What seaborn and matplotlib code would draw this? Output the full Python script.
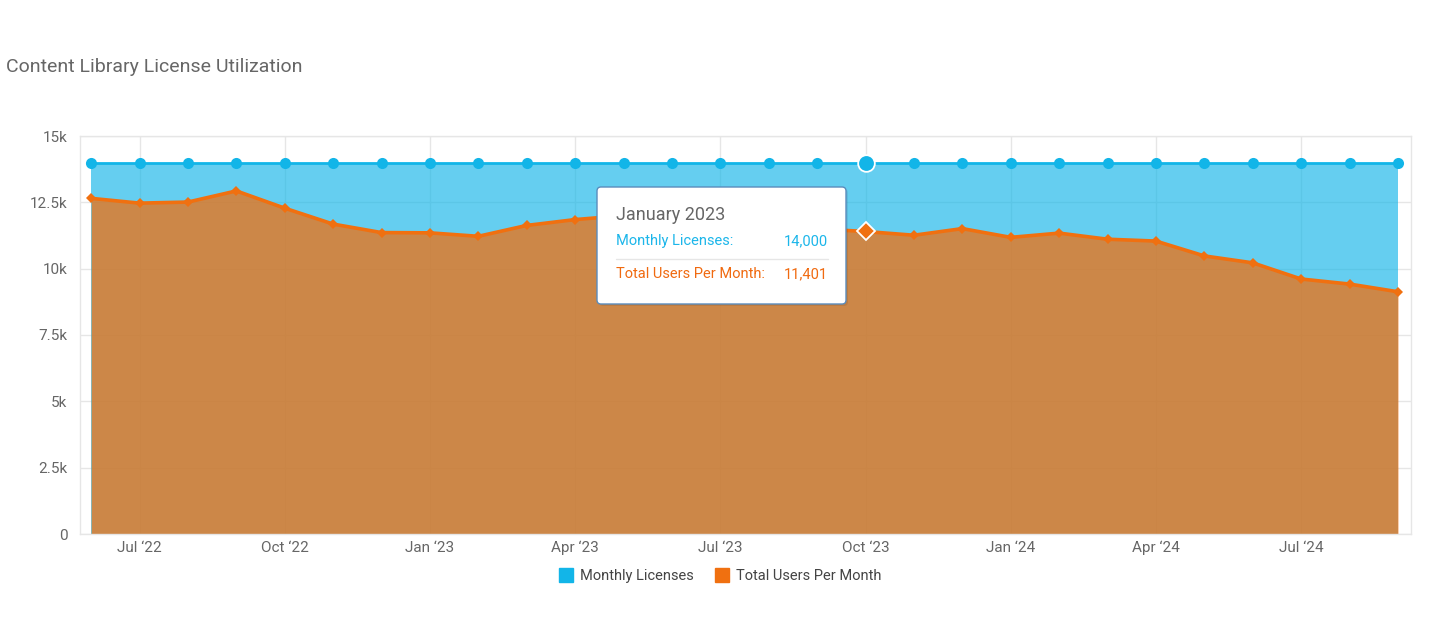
import matplotlib
matplotlib.use("Agg")
import matplotlib.pyplot as plt
import seaborn as sns
import pandas as pd
from matplotlib.patches import FancyBboxPatch
from matplotlib.lines import Line2D

# ---------------- data ----------------
months = ["Jun 2022", "Jul 2022", "Aug 2022", "Sep 2022", "Oct 2022", "Nov 2022", "Dec 2022",
          "Jan 2023", "Feb 2023", "Mar 2023", "Apr 2023", "May 2023", "Jun 2023", "Jul 2023",
          "Aug 2023", "Sep 2023", "Oct 2023", "Nov 2023", "Dec 2023", "Jan 2024", "Feb 2024",
          "Mar 2024", "Apr 2024", "May 2024", "Jun 2024", "Jul 2024", "Aug 2024", "Sep 2024"]
licenses = [14000, 14000, 14000, 14000, 14000, 14000, 14000, 14000, 14000, 14000, 14000, 14000,
            14000, 14000, 14000, 14000, 14000, 14000, 14000, 14000, 14000, 14000, 14000, 14000,
            14000, 14000, 14000, 14000]
users = [12650, 12470, 12510, 12930, 12280, 11680, 11360, 11350, 11220, 11630, 11850, 12000,
         11900, 11800, 11650, 11500, 11401, 11260, 11510, 11180, 11340, 11110, 11040, 10480,
         10220, 9610, 9420, 9130]
tick_idx = [1, 4, 7, 10, 13, 16, 19, 22, 25]
tick_labels = ["Jul \u201822", "Oct \u201822", "Jan \u201823", "Apr \u201823", "Jul \u201823",
               "Oct \u201823", "Jan \u201824", "Apr \u201824", "Jul \u201824"]
ytick_vals = [0, 2500, 5000, 7500, 10000, 12500, 15000]
ytick_labels = ["0", "2.5k", "5k", "7.5k", "10k", "12.5k", "15k"]
series_names = ["Monthly Licenses", "Total Users Per Month"]
tooltip_title = "January 2023"
highlight = 16

# ---------------- style ----------------
sns.set_theme(style="white")
plt.rcParams["font.family"] = ["Roboto", "DejaVu Sans"]

BLUE = "#12b5e8"
ORANGE = "#f07010"
GRID = "#e6e6e6"
TXT = "#666666"

idx = list(range(len(months)))
df = pd.DataFrame({"idx": idx, "month": months, "licenses": licenses, "users": users})

fig = plt.figure(figsize=(14.4, 6.38), dpi=100)
ax = fig.add_axes([80 / 1440, 1 - 534 / 638, (1411 - 80) / 1440, (534 - 136) / 638])

# fills
ax.fill_between(df["idx"], 0, df["licenses"], color=BLUE, alpha=0.65, lw=0, zorder=1)
ax.fill_between(df["idx"], 0, df["users"], color=ORANGE, alpha=0.75, lw=0, zorder=2)

# lines
sns.lineplot(data=df, x="idx", y="licenses", ax=ax, color=BLUE, lw=2.0, marker="o",
             markersize=8, markeredgewidth=0, zorder=4)
sns.lineplot(data=df, x="idx", y="users", ax=ax, color=ORANGE, lw=2.6, marker="D",
             markersize=5.5, markeredgewidth=0, zorder=5)

# hover highlight
ax.plot([highlight], [licenses[highlight]], marker="o", markersize=12, color=BLUE,
        markeredgecolor="white", markeredgewidth=1.3, zorder=6)
ax.plot([highlight], [users[highlight]], marker="D", markersize=9, color=ORANGE,
        markeredgecolor="white", markeredgewidth=1.3, zorder=6)

ax.set_xlim(-0.23, len(months) - 1 + 0.27)
ax.set_ylim(0, 15000)
ax.set_xticks(tick_idx)
ax.set_xticklabels(tick_labels)
ax.set_yticks(ytick_vals)
ax.set_yticklabels(ytick_labels)
ax.set_xlabel("")
ax.set_ylabel("")
ax.tick_params(axis="both", length=0, colors=TXT, labelsize=11)
ax.tick_params(axis="x", pad=5)
ax.tick_params(axis="y", pad=9)
ax.grid(True, color=GRID, lw=1)
ax.set_axisbelow(True)
for s in ["left", "top", "right", "bottom"]:
    ax.spines[s].set_color(GRID)
    ax.spines[s].set_linewidth(1)

# title
fig.text(6 / 1440, 1 - 67 / 638, "Content Library License Utilization", fontsize=14,
         color=TXT, ha="left", va="center")

# legend
handles = [Line2D([], [], ls="none", marker="s", markersize=10, color=BLUE),
           Line2D([], [], ls="none", marker="s", markersize=10, color=ORANGE)]
fig.legend(handles, series_names, loc="center", bbox_to_anchor=(0.5, 1 - 576 / 638), ncol=2,
           frameon=False, fontsize=10.5, labelcolor="#444444", handletextpad=0.45,
           columnspacing=1.5, handlelength=1.0)

# tooltip (in inches coordinates)
tr = fig.dpi_scale_trans
H = 6.38
shadow = FancyBboxPatch((5.99, H - 3.06), 2.49, 1.17, boxstyle="round,pad=0,rounding_size=0.04",
                        transform=tr, facecolor="#000000", alpha=0.08, edgecolor="none", zorder=9)
box = FancyBboxPatch((5.97, H - 3.04), 2.49, 1.17, boxstyle="round,pad=0,rounding_size=0.04",
                     transform=tr, facecolor="white", edgecolor="#5a8cbc", lw=1.0, zorder=10)
fig.add_artist(shadow)
fig.add_artist(box)
fig.text(6.16, H - 2.15, tooltip_title, transform=tr, fontsize=13, color=TXT,
         ha="left", va="center", zorder=11)
fig.text(6.16, H - 2.41, series_names[0] + ":", transform=tr, fontsize=10.5, color="#1cb6ea",
         ha="left", va="center", zorder=11)
fig.text(8.28, H - 2.41, f"{licenses[highlight]:,}", transform=tr, fontsize=10.5,
         color="#1cb6ea", ha="right", va="center", zorder=11)
fig.add_artist(Line2D([6.16, 8.28], [H - 2.585, H - 2.585], transform=tr, color=GRID, lw=1,
                      zorder=11))
fig.text(6.16, H - 2.74, series_names[1] + ":", transform=tr, fontsize=10.5, color="#f06a10",
         ha="left", va="center", zorder=11)
fig.text(8.28, H - 2.74, f"{users[highlight]:,}", transform=tr, fontsize=10.5,
         color="#f06a10", ha="right", va="center", zorder=11)

fig.savefig("out.png", dpi=100, facecolor="white")
